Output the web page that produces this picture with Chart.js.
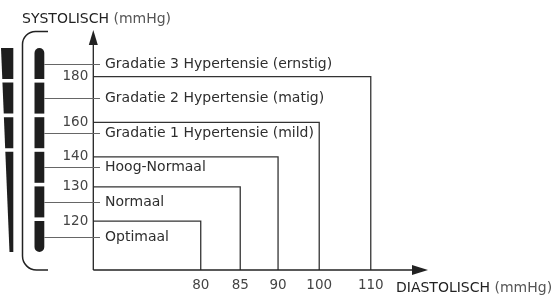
<!DOCTYPE html>
<html><head><meta charset="utf-8">
<script src="https://cdn.jsdelivr.net/npm/chart.js@4"></script>
<style>html,body{margin:0;padding:0;background:#fff}#wrap{width:554px;height:297px}</style>
</head><body><div id="wrap"><canvas id="c" width="554" height="297"></canvas></div>
<script>
// ---- data ----
const categories = ['Optimaal', 'Normaal', 'Hoog-Normaal', 'Gradatie 1 Hypertensie (mild)', 'Gradatie 2 Hypertensie (matig)', 'Gradatie 3 Hypertensie (ernstig)'];
const systolicLimits = [120, 130, 140, 160, 180];
const diastolicLimits = [80, 85, 90, 100, 110];
const yTickValues = [120, 130, 140, 160, 180];
const xTickValues = [80, 85, 90, 100, 110];
const yAxisTitle = ['SYSTOLISCH', ' (mmHg)'];
const xAxisTitle = ['DIASTOLISCH', ' (mmHg)'];

// ---- axis configuration (schematic, non-uniform axes) ----
const X_MIN = 70, X_MAX = 120, Y_MIN = 100, Y_MAX = 200;
const axisKnots = {
  x: [[70, 0], [80, 0.321], [85, 0.439], [90, 0.552], [100, 0.675], [110, 0.829], [120, 1]],
  y: [[100, 0], [120, 0.204], [130, 0.346], [140, 0.471], [160, 0.615], [180, 0.806], [200, 1]]
};

class PiecewiseScale extends Chart.LinearScale {
  _k() { return axisKnots[this.id]; }
  _frac(v) {
    const k = this._k();
    if (v <= k[0][0]) return k[0][1];
    for (let i = 1; i < k.length; i++) {
      if (v <= k[i][0]) {
        const [v0, f0] = k[i - 1], [v1, f1] = k[i];
        return f0 + (f1 - f0) * (v - v0) / (v1 - v0);
      }
    }
    return k[k.length - 1][1];
  }
  getPixelForValue(v) {
    if (v === null || v === undefined || isNaN(v)) return NaN;
    return this.getPixelForDecimal(this._frac(v));
  }
  getValueForPixel(p) {
    const f = this.getDecimalForPixel(p);
    const k = this._k();
    for (let i = 1; i < k.length; i++) {
      if (f <= k[i][1]) {
        const [v0, f0] = k[i - 1], [v1, f1] = k[i];
        return v0 + (v1 - v0) * (f - f0) / (f1 - f0);
      }
    }
    return k[k.length - 1][0];
  }
}
PiecewiseScale.id = 'piecewise';
PiecewiseScale.defaults = Chart.LinearScale.defaults;
Chart.register(PiecewiseScale);

const FONT = "'DejaVu Sans', sans-serif";
const INK = '#2e2e2e';

const datasets = diastolicLimits.map((d, i) => ({
  label: categories[i],
  data: [{x: X_MIN, y: systolicLimits[i]}, {x: d, y: systolicLimits[i]}, {x: d, y: Y_MIN}],
  borderColor: '#333', borderWidth: 1.3, pointRadius: 0, fill: false, tension: 0
}));

const decor = {
  id: 'decor',
  afterDraw(chart) {
    const ctx = chart.ctx, a = chart.chartArea;
    const L = a.left, B = a.bottom, T = a.top, R = a.right;
    ctx.save();
    // axes with arrows
    ctx.strokeStyle = '#222'; ctx.fillStyle = '#222'; ctx.lineWidth = 1.3;
    ctx.beginPath(); ctx.moveTo(L, B); ctx.lineTo(L, T + 14); ctx.stroke();
    ctx.beginPath(); ctx.moveTo(L, T); ctx.lineTo(L - 4.5, T + 15); ctx.lineTo(L + 4.5, T + 15); ctx.closePath(); ctx.fill();
    ctx.beginPath(); ctx.moveTo(L, B); ctx.lineTo(R - 15, B); ctx.stroke();
    ctx.beginPath(); ctx.moveTo(R, B); ctx.lineTo(R - 16, B - 5); ctx.lineTo(R - 16, B + 5); ctx.closePath(); ctx.fill();

    // category slots (evenly spaced, top = most severe)
    const n = categories.length;
    const c0 = T + 33.5, c1 = B - 33.5, step = (c1 - c0) / (n - 1);
    const half = step / 2 - 1.8;
    const centers = [];
    for (let i = 0; i < n; i++) centers.push(c0 + i * step);
    const names = categories.slice().reverse();

    // right bar segments
    ctx.fillStyle = '#1e1e1e';
    const bx = 34.5, bw = 9.8;
    centers.forEach((c, i) => {
      const t = c - half, b = c + half;
      ctx.beginPath();
      if (i === 0) {
        ctx.moveTo(bx, b); ctx.lineTo(bx, t + bw / 2);
        ctx.arc(bx + bw / 2, t + bw / 2, bw / 2, Math.PI, 0);
        ctx.lineTo(bx + bw, b); ctx.closePath();
      } else if (i === n - 1) {
        ctx.moveTo(bx, t); ctx.lineTo(bx + bw, t); ctx.lineTo(bx + bw, b - bw / 2);
        ctx.arc(bx + bw / 2, b - bw / 2, bw / 2, 0, Math.PI);
        ctx.closePath();
      } else {
        ctx.rect(bx, t, bw, b - t);
      }
      ctx.fill();
    });

    // left tapered wedge segments
    const wTop = centers[0] - half, wBot = centers[n - 1] + half;
    const leftEdge = y => 1 + (9.5 - 1) * (y - wTop) / (wBot - wTop);
    const groups = [[0, 0], [1, 1], [2, 2], [3, n - 1]];
    groups.forEach(([s, e]) => {
      const t = centers[s] - half, b = centers[e] + half;
      ctx.beginPath();
      ctx.moveTo(leftEdge(t), t); ctx.lineTo(13.3, t); ctx.lineTo(13.3, b); ctx.lineTo(leftEdge(b), b);
      ctx.closePath(); ctx.fill();
    });

    // bracket
    ctx.strokeStyle = '#222'; ctx.lineWidth = 1.5;
    ctx.beginPath();
    ctx.moveTo(48, T + 1.5);
    ctx.arcTo(22.5, T + 1.5, 22.5, T + 30, 13);
    ctx.lineTo(22.5, B - 14);
    ctx.arcTo(22.5, B, 40, B, 14);
    ctx.lineTo(48, B);
    ctx.stroke();

    // leader lines + labels
    ctx.strokeStyle = '#666'; ctx.lineWidth = 1;
    ctx.fillStyle = INK; ctx.font = '14px ' + FONT; ctx.textBaseline = 'middle'; ctx.textAlign = 'left';
    centers.forEach((c, i) => {
      const y = Math.round(c) + 0.5;
      ctx.beginPath(); ctx.moveTo(44.3, y); ctx.lineTo(100, y); ctx.stroke();
      ctx.fillText(names[i], 105, c + 0.5);
    });

    // axis titles
    const drawTitle = (parts, x, y) => {
      ctx.textBaseline = 'middle'; ctx.textAlign = 'left';
      ctx.font = '14px ' + FONT; ctx.fillStyle = '#222';
      ctx.fillText(parts[0], x, y);
      const w = ctx.measureText(parts[0]).width;
      ctx.fillStyle = '#555';
      ctx.fillText(parts[1], x + w, y);
    };
    drawTitle(yAxisTitle, 22, 19);
    drawTitle(xAxisTitle, 396, 288);
    ctx.restore();
  }
};

new Chart(document.getElementById('c'), {
  type: 'line',
  data: { datasets },
  options: {
    responsive: false, animation: false, events: [],
    layout: { padding: { left: 0, top: 30, right: 126, bottom: 0 } },
    plugins: { legend: { display: false }, tooltip: { enabled: false } },
    scales: {
      x: {
        type: 'piecewise', min: X_MIN, max: X_MAX, bounds: 'data',
        grid: { display: false, drawTicks: false }, border: { display: false },
        afterBuildTicks: s => { s.ticks = xTickValues.map(v => ({ value: v })); },
        afterFit: s => { s.height = 27; },
        ticks: { autoSkip: false, maxRotation: 0, padding: 7, color: '#444', font: { family: FONT, size: 13.5 }, callback: v => String(v) }
      },
      y: {
        type: 'piecewise', min: Y_MIN, max: Y_MAX, bounds: 'data',
        grid: { display: false, drawTicks: false }, border: { display: false },
        afterBuildTicks: s => { s.ticks = yTickValues.map(v => ({ value: v })); },
        afterFit: s => { s.width = 93.3; },
        ticks: { autoSkip: false, padding: 5, color: '#444', font: { family: FONT, size: 13.5 }, callback: v => String(v) }
      }
    }
  },
  plugins: [decor]
});
</script>
</body></html>
